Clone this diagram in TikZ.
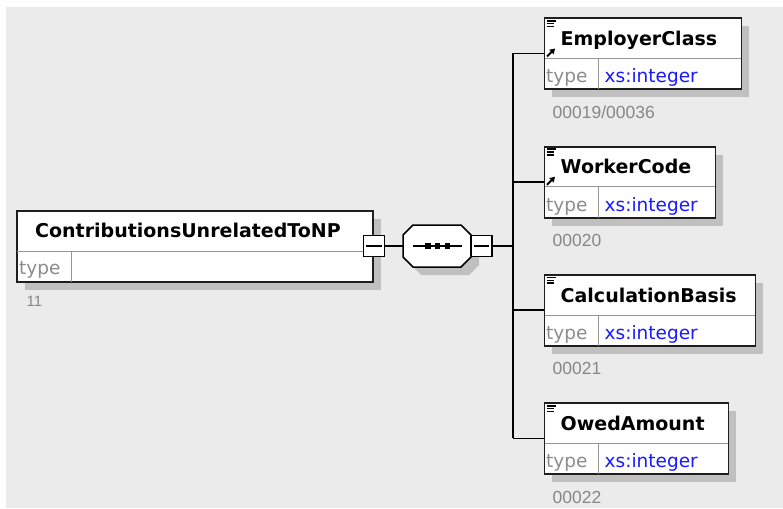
\documentclass[tikz,border=0pt]{standalone}
\usepackage{fontspec}
\setmainfont{DejaVu Sans}
\newfontfamily\digfont{Liberation Sans}
\usetikzlibrary{shadows,arrows.meta}
\definecolor{bgc}{RGB}{235,235,235}
\definecolor{shc}{RGB}{192,192,192}
\definecolor{bordc}{RGB}{30,30,30}
\definecolor{divc}{RGB}{150,150,150}
\definecolor{typec}{RGB}{140,140,140}
\definecolor{bluec}{RGB}{25,25,255}
\definecolor{labc}{RGB}{135,135,135}
\tikzset{
 elbox/.style={draw=bordc, line width=1.8pt, fill=white, anchor=north west, inner sep=0pt, minimum height=71pt,
   general shadow={fill=shc, shadow xshift=8pt, shadow yshift=-8pt}},
 ttl/.style={font=\bfseries\fontsize{19}{19}\selectfont, anchor=base west, inner sep=0pt},
 typetxt/.style={font=\fontsize{18.5}{18.5}\selectfont, text=typec, anchor=base west, inner sep=0pt},
 typeval/.style={font=\fontsize{18.5}{18.5}\selectfont, text=bluec, anchor=base west, inner sep=0pt},
 lab/.style={font=\digfont\fontsize{17.5}{17.5}\selectfont, text=labc, anchor=base west, inner sep=0pt},
 divline/.style={draw=divc, line width=1pt},
 conn/.style={draw=black, line width=1.5pt},
 minusbox/.style={draw=black, line width=1.5pt, fill=white, minimum size=21pt, inner sep=0pt},
 iconline/.style={draw=black, line width=1.5pt},
 iconarrow/.style={draw=black, line width=2pt, -{Triangle[length=5pt,width=6pt]}},
}
\newcommand\xelem[6]{%
 \node[elbox, minimum width=#4pt] (#1) at (#2,#3) {};
 \draw[divline] ([xshift=1pt,yshift=-41pt]#1.north west) -- ([xshift=-1pt,yshift=-41pt]#1.north east);
 \draw[divline] ([xshift=54.5pt,yshift=-41pt]#1.north west) -- ([xshift=54.5pt,yshift=1pt]#1.south west);
 \node[ttl] (#1t) at ([xshift=17pt,yshift=-28pt]#1.north west) {#5};
 \node[typetxt] (#1k) at ([xshift=2.5pt,yshift=7.5pt]#1.south west) {type};
 \node[typeval] (#1v) at ([xshift=61pt,yshift=7.5pt]#1.south west) {xs:integer};
 \node[lab] (#1l) at ([xshift=9pt,yshift=-28pt]#1.south west) {#6};
 \draw[iconline] ([xshift=3.2pt,yshift=-3.4pt]#1.north west) -- ++(9.5,0);
 \draw[iconline] ([xshift=3.2pt,yshift=-6.2pt]#1.north west) -- ++(7,0);
 \draw[iconline] ([xshift=3.2pt,yshift=-9pt]#1.north west) -- ++(7,0);
 \coordinate (#1c) at ([yshift=-36pt]#1.north west);
}
\newcommand\refarrow[1]{%
 \draw[iconarrow] ([xshift=3.5pt,yshift=-39pt]#1.north west) -- ++(8,-8);
}
\begin{document}
\begin{tikzpicture}[x=1pt,y=-1pt]
\useasboundingbox (0,0) rectangle (783,508);
\fill[bgc] (6,7) rectangle (783,508);

% main element
\node[elbox, minimum width=356pt] (main) at (16,210) {};
\draw[divline] ([xshift=1pt,yshift=-41pt]main.north west) -- ([xshift=-1pt,yshift=-41pt]main.north east);
\draw[divline] ([xshift=55pt,yshift=-41pt]main.north west) -- ([xshift=55pt,yshift=1pt]main.south west);
\node[ttl] (maint) at ([xshift=19pt,yshift=-27pt]main.north west) {ContributionsUnrelatedToNP};
\node[typetxt] (maink) at ([xshift=3pt,yshift=8pt]main.south west) {type};
\node[lab, font=\digfont\fontsize{15}{15}\selectfont] (mainl) at ([xshift=10.5pt,yshift=-24pt]main.south west) {11};
\node[minusbox] (m1) at ([yshift=-36pt]main.north east) {};
\draw[line width=1.3pt] ([xshift=3.5pt]m1.west) -- ([xshift=-3.5pt]m1.east);

% sequence compositor
\node[minimum width=68pt, minimum height=42pt, inner sep=0pt] (seq) at (437,246) {};
\fill[shc] (421,233) -- (469,233) -- (479,243) -- (479,265) -- (469,275) -- (421,275) -- (411,265) -- (411,243) -- cycle;
\draw[line width=1.5pt, fill=white] (413,225) -- (461,225) -- (471,235) -- (471,257) -- (461,267) -- (413,267) -- (403,257) -- (403,235) -- cycle;
\draw[line width=1.3pt] (413,246) -- (462,246);
\fill (425.3,243.3) rectangle ++(5.4,5.4);
\fill (434.6,243.3) rectangle ++(5.4,5.4);
\fill (444.6,243.3) rectangle ++(5.4,5.4);
\node[minusbox] (m2) at (481.5,246) {};
\draw[line width=1.3pt] ([xshift=3.5pt]m2.west) -- ([xshift=-3.5pt]m2.east);

% children
\xelem{emp}{543.5}{17.5}{197}{EmployerClass}{00019/00036}
\refarrow{emp}
\xelem{wc}{543.5}{145.8}{171}{WorkerCode}{00020}
\refarrow{wc}
\xelem{cb}{543.5}{274.1}{211}{CalculationBasis}{00021}
\xelem{oa}{543.5}{402.4}{184}{OwedAmount}{00022}

% connectors
\coordinate (bus) at (513,246);
\draw[conn] (m1.east) -- (seq.west);
\draw[conn] (m2.east) -- (bus);
\draw[conn] (bus |- empc) -- (bus |- oac);
\draw[conn] (bus |- empc) -- (empc);
\draw[conn] (bus |- wcc) -- (wcc);
\draw[conn] (bus |- cbc) -- (cbc);
\draw[conn] (bus |- oac) -- (oac);
\end{tikzpicture}
\end{document}
